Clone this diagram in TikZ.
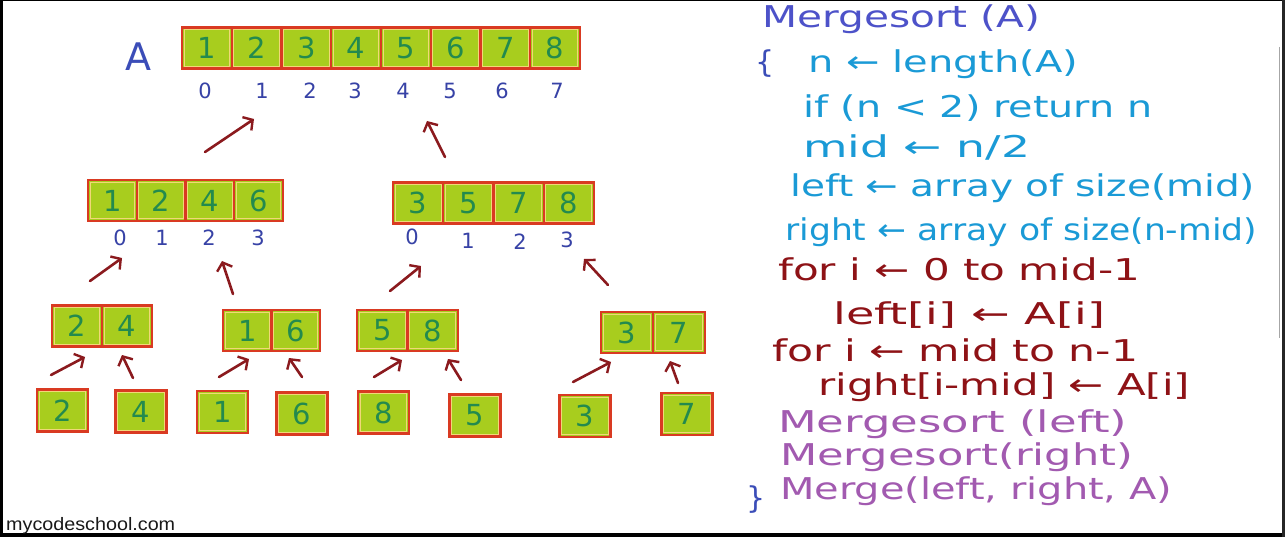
\documentclass[tikz,border=0pt]{standalone}
\usepackage{fontspec}
\usepackage{graphicx}
\usetikzlibrary{arrows.meta}
\newfontfamily\handfont{DejaVu Sans}
\newfontfamily\markfont{Liberation Sans}
\definecolor{CellFill}{HTML}{A8CD1E}
\definecolor{CellEdge}{HTML}{D93A22}
\definecolor{CellHi}{HTML}{F1D878}
\definecolor{Digit}{HTML}{238A4E}
\definecolor{Index}{HTML}{3742A6}
\definecolor{ArrowRed}{HTML}{8B1A1E}
\definecolor{Title}{HTML}{4D52C9}
\definecolor{Brace}{HTML}{3B4DB8}
\definecolor{Cyan}{HTML}{1A9AD6}
\definecolor{Loop}{HTML}{8E1216}
\definecolor{Call}{HTML}{A25AB0}
\newcommand{\codeline}[2]{\resizebox{#1pt}{\height}{#2}}
\tikzset{cell/.style={draw=CellEdge,line width=2.4pt,fill=CellFill,minimum width=#1,
    minimum height=41pt,inner sep=0pt,text=Digit,font=\handfont\fontsize{29}{32}\selectfont,
    path picture={\draw[CellHi,line width=0.9pt]
      ([shift={(2.1pt,-2.1pt)}]path picture bounding box.north west) rectangle
      ([shift={(-2.1pt,2.1pt)}]path picture bounding box.south east);}},
  cell/.default=50pt,
  idx/.style={anchor=base,inner sep=0pt,text=Index,font=\handfont\fontsize{21}{24}\selectfont},
  code/.style={anchor=base west,inner sep=0pt,font=\handfont\fontsize{30}{36}\selectfont},
  uparrow/.style={draw=ArrowRed,line width=2.6pt,line cap=round,
    -{Straight Barb[length=7pt,width=16pt,line width=2.4pt]}}}

\begin{document}
\begin{tikzpicture}[x=1pt,y=-1pt]
  \useasboundingbox (0,0) rectangle (1285,537);
  \fill[white] (0,0) rectangle (1285,537);
  % screen edges
  \fill[black] (0,0) rectangle (2.5,537);
  \fill[black] (0,0) rectangle (1285,1.5);
  \fill[black] (0,533) rectangle (1285,537);
  \fill[black!85] (1282,0) rectangle (1285,537);
  \draw[black!35,line width=1pt] (1279,47) -- (1279,338);

  % array A
  \node[text=Brace,font=\handfont\fontsize{38}{40}\selectfont] (alabel) at (138,57) {A};
  \foreach \d [count=\k] in {1,...,8}
    \node[cell=49.75pt] (top\k) at ({182+49.75*(\k-0.5)},48) {\d};
  \foreach \i/\x in {0/205,1/262,2/310,3/355,4/403,5/450,6/502,7/557}
    \node[idx] (ti\i) at (\x,99) {\i};

  % halves
  \foreach \d [count=\k] in {1,2,4,6}
    \node[cell=48.75pt] (ml\k) at ({88+48.75*(\k-0.5)},200.5) {\d};
  \foreach \i/\x in {0/120,1/162,2/209,3/258}
    \node[idx] (li\i) at (\x,246) {\i};
  \foreach \d [count=\k] in {3,5,7,8}
    \node[cell=50.25pt] (mr\k) at ({393+50.25*(\k-0.5)},203) {\d};
  \foreach \i/\x/\y in {0/412/245,1/468/249,2/520/250,3/567/248}
    \node[idx] (ri\i) at (\x,\y) {\i};

  % pairs
  \foreach \n/\xa/\w/\yc/\da/\db in {p24/52/50/326/2/4,p16/223/48.5/330.5/1/6,
      p58/357/50.5/330.5/5/8,p37/601/52/332.5/3/7} {
    \node[cell=\w pt] (\n-1) at ({\xa+\w/2},\yc) {\da};
    \node[cell=\w pt] (\n-2) at ({\xa+1.5*\w},\yc) {\db};
  }

  % single elements
  \foreach \d/\x/\y in {2/62.5/410.5,4/141/411.5,1/222.5/412,6/302/413.5,
      8/383.5/412.5,5/475/415.5,3/585/416,7/687/414}
    \node[cell=51pt,minimum height=42pt] (s\d) at (\x,\y) {\d};

  % merge arrows
  \foreach \xa/\ya/\xb/\yb [count=\k] in {205/152/254/119,445/157/427/121,
      90/281/122/258,233/294/222/261,390/291/421/266,608/285/584/259,
      51/375/85/357,133/378/122/355,219/377/249/359,302/377/289/358,
      374/377/402/360,461/380/448/359,573/382/611/362,678/383/670/361} {
    \coordinate (t\k) at (\xa,\ya);
    \coordinate (h\k) at (\xb,\yb);
    \draw[uparrow] (t\k) -- (h\k);
  }

  % pseudo code
  \node[code,text=Title] (l0) at (762,28) {\codeline{278}{Mergesort (A)}};
  \node[code,text=Brace] (ob) at (755,73) {\{};
  \node[code,text=Cyan] (l1) at (808,73) {\codeline{270}{n ← length(A)}};
  \node[code,text=Cyan] (l2) at (803,118) {\codeline{349}{if (n < 2) return n}};
  \node[code,text=Cyan] (l3) at (803,158) {\codeline{227}{mid ← n/2}};
  \node[code,text=Cyan] (l4) at (790,197) {\codeline{465}{left ← array of size(mid)}};
  \node[code,text=Cyan] (l5) at (785,241) {\codeline{472}{right ← array of size(n-mid)}};
  \node[code,text=Loop] (l6) at (778,281) {\codeline{362}{for i ← 0 to mid-1}};
  \node[code,text=Loop] (l7) at (833,324) {\codeline{272}{left[i] ← A[i]}};
  \node[code,text=Loop] (l8) at (772,361) {\codeline{366}{for i ← mid to n-1}};
  \node[code,text=Loop] (l9) at (818,395) {\codeline{372}{right[i-mid] ← A[i]}};
  \node[code,text=Call] (l10) at (778,432) {\codeline{349}{Mergesort (left)}};
  \node[code,text=Call] (l11) at (780,465) {\codeline{353}{Mergesort(right)}};
  \node[code,text=Call] (l12) at (780,499) {\codeline{392}{Merge(left, right, A)}};
  \node[code,text=Brace] (cb) at (746,508) {\}};

  \node[anchor=base west,inner sep=0pt,text=black!90,font=\markfont\fontsize{18}{20}\selectfont]
    (site) at (6,530) {\resizebox{169pt}{\height}{mycodeschool.com}};
\end{tikzpicture}
\end{document}
